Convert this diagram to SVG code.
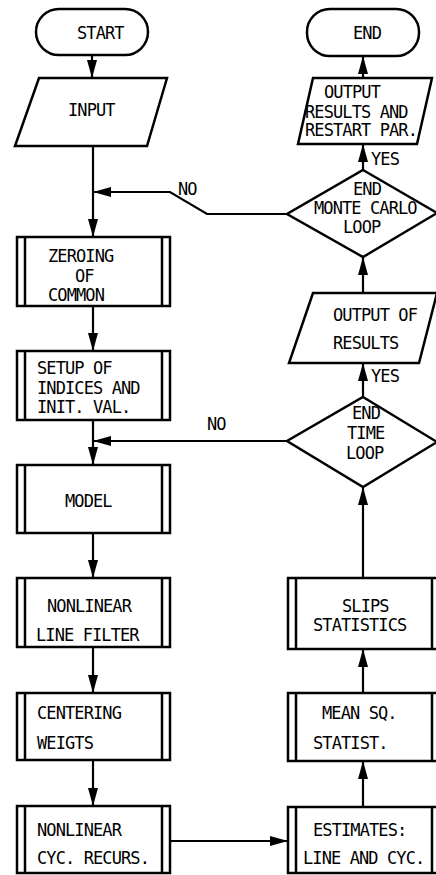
<svg xmlns="http://www.w3.org/2000/svg" width="436" height="875" viewBox="0 0 436 875">
<defs>
<style>
.s{fill:#fff;stroke:#000;stroke-width:2.5;stroke-linejoin:miter}
.l{fill:none;stroke:#000;stroke-width:2.5}
.c{fill:none;stroke:#000;stroke-width:2.2}
text{font-family:"DejaVu Sans Mono","Liberation Mono",monospace;font-size:17px;letter-spacing:-0.9px;fill:#000}
</style>
<marker id="a" viewBox="0 0 18 10" refX="18" refY="5" markerWidth="18" markerHeight="10" markerUnits="userSpaceOnUse" orient="auto">
<path d="M0,0 L18,5 L0,10 z" fill="#000"/>
</marker>
</defs>
<rect width="436" height="875" fill="#fff"/>
<g id="connectors">
<path class="c" d="M92,55 V78" marker-end="url(#a)"/>
<path class="c" d="M93,146 V237" marker-end="url(#a)"/>
<path class="c" d="M287,214 H207 L170,192 H93" marker-end="url(#a)"/>
<path class="c" d="M93,306 V351" marker-end="url(#a)"/>
<path class="c" d="M93,420 V465" marker-end="url(#a)"/>
<path class="c" d="M287,441 H93" marker-end="url(#a)"/>
<path class="c" d="M93,533 V578" marker-end="url(#a)"/>
<path class="c" d="M93,647 V693" marker-end="url(#a)"/>
<path class="c" d="M93,760 V806" marker-end="url(#a)"/>
<path class="c" d="M170,841 H288" marker-end="url(#a)"/>
<path class="c" d="M363,807 V761" marker-end="url(#a)"/>
<path class="c" d="M363,693 V649" marker-end="url(#a)"/>
<path class="c" d="M363,578 V487" marker-end="url(#a)"/>
<path class="c" d="M363,397 V363" marker-end="url(#a)"/>
<path class="c" d="M363,293 V257" marker-end="url(#a)"/>
<path class="c" d="M363,170 V144" marker-end="url(#a)"/>
<path class="c" d="M363,78 V56" marker-end="url(#a)"/>
<text x="178" y="195">NO</text>
<text x="207" y="430">NO</text>
<text x="371" y="165">YES</text>
<text x="371" y="382">YES</text>
</g>
<g id="start">
<rect class="s" x="36" y="9" width="112" height="46" rx="23"/>
<text x="77" y="39">START</text>
</g>
<g id="input">
<path class="s" d="M39,78 H167 L147,146 H15 z"/>
<text x="68" y="116">INPUT</text>
</g>
<g id="zeroing">
<rect class="s" x="17" y="237" width="153" height="69"/>
<path class="l" d="M25,237 V306 M162,237 V306"/>
<text x="48" y="262">ZEROING</text>
<text x="75" y="282">OF</text>
<text x="48" y="301">COMMON</text>
</g>
<g id="setup">
<rect class="s" x="17" y="351" width="153" height="69"/>
<path class="l" d="M25,351 V420 M162,351 V420"/>
<text x="37" y="374">SETUP OF</text>
<text x="37" y="394">INDICES AND</text>
<text x="37" y="413">INIT. VAL.</text>
</g>
<g id="model">
<rect class="s" x="17" y="465" width="153" height="68"/>
<path class="l" d="M25,465 V533 M162,465 V533"/>
<text x="65" y="507">MODEL</text>
</g>
<g id="linefilter">
<rect class="s" x="17" y="578" width="153" height="69"/>
<path class="l" d="M25,578 V647 M162,578 V647"/>
<text x="47" y="612">NONLINEAR</text>
<text x="36" y="641">LINE FILTER</text>
</g>
<g id="centering">
<rect class="s" x="17" y="693" width="153" height="67"/>
<path class="l" d="M25,693 V760 M162,693 V760"/>
<text x="37" y="719">CENTERING</text>
<text x="37" y="749">WEIGTS</text>
</g>
<g id="cycrecurs">
<rect class="s" x="17" y="806" width="153" height="67"/>
<path class="l" d="M25,806 V873 M162,806 V873"/>
<text x="37" y="836">NONLINEAR</text>
<text x="37" y="864">CYC. RECURS.</text>
</g>
<g id="estimates">
<rect class="s" x="288" y="807" width="152" height="66"/>
<path class="l" d="M296,807 V873 M432,807 V873"/>
<text x="313" y="836">ESTIMATES:</text>
<text x="303" y="864">LINE AND CYC.</text>
</g>
<g id="meansq">
<rect class="s" x="288" y="693" width="152" height="68"/>
<path class="l" d="M296,693 V761 M432,693 V761"/>
<text x="322" y="719">MEAN SQ.</text>
<text x="313" y="749">STATIST.</text>
</g>
<g id="slips">
<rect class="s" x="288" y="578" width="152" height="71"/>
<path class="l" d="M296,578 V649 M432,578 V649"/>
<text x="342" y="612">SLIPS</text>
<text x="313" y="631">STATISTICS</text>
</g>
<g id="timeloop">
<path class="s" d="M363,397 L437,442 L363,487 L287,441 z"/>
<text x="352" y="419">END</text>
<text x="347" y="439">TIME</text>
<text x="346" y="459">LOOP</text>
</g>
<g id="outputof">
<path class="s" d="M313,293 H437 L419,363 H289 z"/>
<text x="333" y="321">OUTPUT OF</text>
<text x="333" y="349">RESULTS</text>
</g>
<g id="montecarlo">
<path class="s" d="M363,170 L437,213 L363,257 L287,214 z"/>
<text x="353" y="195">END</text>
<text x="314" y="214">MONTE CARLO</text>
<text x="343" y="233">LOOP</text>
</g>
<g id="outputresults">
<path class="s" d="M313,78 H432 L417,144 H298 z"/>
<text x="324" y="98">OUTPUT</text>
<text x="305" y="118">RESULTS AND</text>
<text x="305" y="136">RESTART PAR.</text>
</g>
<g id="end">
<rect class="s" x="307" y="9" width="112" height="47" rx="23"/>
<text x="353" y="39">END</text>
</g>
</svg>
